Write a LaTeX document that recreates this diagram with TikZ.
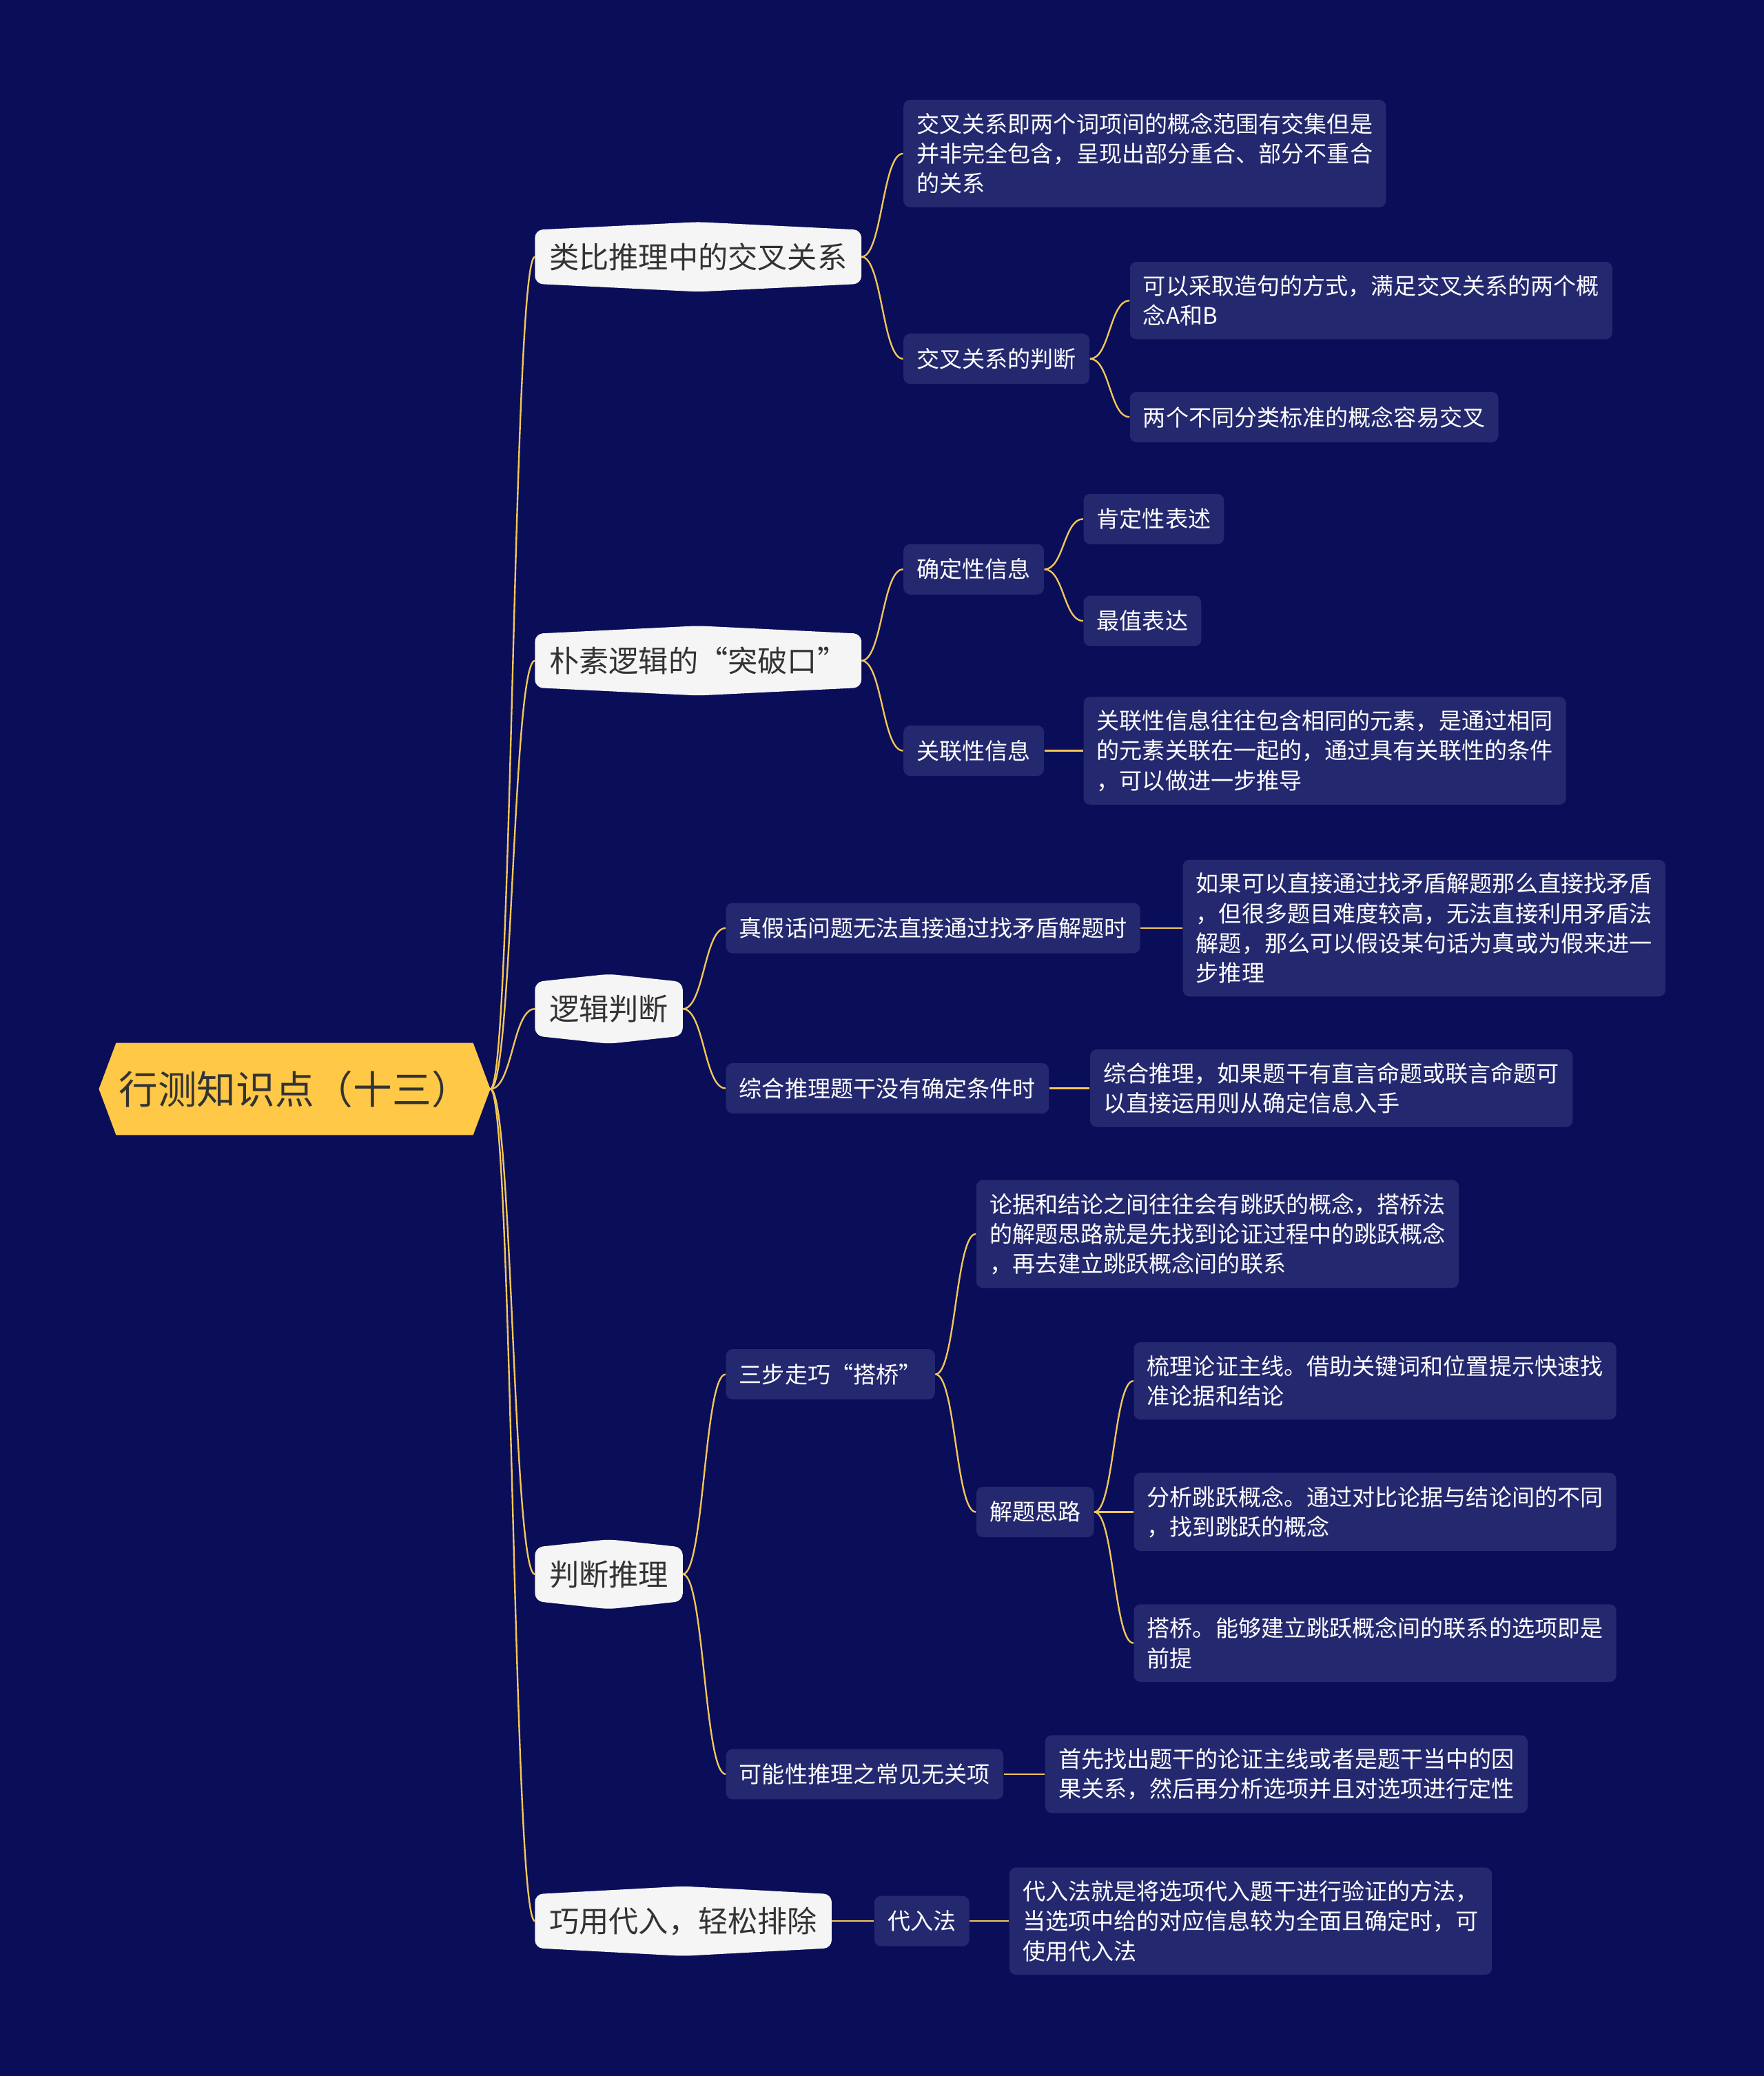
\documentclass[tikz,border=0pt]{standalone}
\usepackage{fontspec}
\setmainfont{Noto Sans CJK SC}
\usepackage{tikz}
\usetikzlibrary{positioning,backgrounds,calc}

\definecolor{navy}{HTML}{0A0E58}
\definecolor{boxblue}{HTML}{24286F}
\definecolor{gold}{HTML}{FFC947}
\definecolor{wire}{HTML}{F3C758}
\definecolor{paper}{HTML}{F5F5F5}
\definecolor{ink}{HTML}{333333}

\begin{document}
\begin{tikzpicture}[
    x=0.02cm, y=-0.02cm,
    mainidea/.style={rectangle, text=ink, font=\fontsize{16.8}{20}\selectfont, minimum width=5.9cm, minimum height=1.38cm, inner sep=0pt},
    topic/.style={rectangle, anchor=west, text=ink, font=\fontsize{12.8}{16}\selectfont, inner xsep=0.21cm, inner ysep=0pt, minimum height=1.04cm},
    detail/.style={rectangle, anchor=west, fill=boxblue, rounded corners=0.1cm, text=white, font=\fontsize{9.8}{12.8}\selectfont, align=left, inner xsep=0.2cm, inner ysep=0.2cm, minimum height=0.76cm},
    link/.style={draw=wire, line width=0.7pt, to path={.. controls ($(\tikztostart)!0.5!(\tikztotarget|-\tikztostart)$) and ($(\tikztotarget)!0.5!(\tikztostart|-\tikztotarget)$) .. (\tikztotarget)}}
]
\useasboundingbox (0,0) rectangle (1332,1568);

% Centre
\node [mainidea] (root) at (222.5,822.5) {行测知识点（十三）};

% Main branches
\node [topic] (t1) at (404,194) {类比推理中的交叉关系};
\node [topic] (t2) at (404,499) {朴素逻辑的“突破口”};
\node [topic] (t3) at (404,762) {逻辑判断};
\node [topic] (t4) at (404,1189) {判断推理};
\node [topic] (t5) at (404,1451) {巧用代入，轻松排除};

% Branch 1
\node [detail] (a1) at (682,116) {交叉关系即两个词项间的概念范围有交集但是\\并非完全包含，呈现出部分重合、部分不重合\\的关系};
\node [detail] (a2) at (682,271) {交叉关系的判断};
\node [detail] (a2a) at (853,227) {可以采取造句的方式，满足交叉关系的两个概\\念A和B};
\node [detail] (a2b) at (853,315) {两个不同分类标准的概念容易交叉};

% Branch 2
\node [detail] (b1) at (682,430) {确定性信息};
\node [detail] (b1a) at (818,392) {肯定性表述};
\node [detail] (b1b) at (818,469) {最值表达};
\node [detail] (b2) at (682,567) {关联性信息};
\node [detail] (b2a) at (818,567) {关联性信息往往包含相同的元素，是通过相同\\的元素关联在一起的，通过具有关联性的条件\\，可以做进一步推导};

% Branch 3
\node [detail] (c1) at (548,701) {真假话问题无法直接通过找矛盾解题时};
\node [detail] (c1a) at (893,701) {如果可以直接通过找矛盾解题那么直接找矛盾\\，但很多题目难度较高，无法直接利用矛盾法\\解题，那么可以假设某句话为真或为假来进一\\步推理};
\node [detail] (c2) at (548,822) {综合推理题干没有确定条件时};
\node [detail] (c2a) at (823,822) {综合推理，如果题干有直言命题或联言命题可\\以直接运用则从确定信息入手};

% Branch 4
\node [detail] (d1) at (548,1038) {三步走巧“搭桥”};
\node [detail] (d1a) at (737,932) {论据和结论之间往往会有跳跃的概念，搭桥法\\的解题思路就是先找到论证过程中的跳跃概念\\，再去建立跳跃概念间的联系};
\node [detail] (d1b) at (737,1142) {解题思路};
\node [detail] (d1b1) at (856,1043) {梳理论证主线。借助关键词和位置提示快速找\\准论据和结论};
\node [detail] (d1b2) at (856,1142) {分析跳跃概念。通过对比论据与结论间的不同\\，找到跳跃的概念};
\node [detail] (d1b3) at (856,1241) {搭桥。能够建立跳跃概念间的联系的选项即是\\前提};
\node [detail] (d2) at (548,1340) {可能性推理之常见无关项};
\node [detail] (d2a) at (789,1340) {首先找出题干的论证主线或者是题干当中的因\\果关系，然后再分析选项并且对选项进行定性};

% Branch 5
\node [detail] (e1) at (660,1451) {代入法};
\node [detail] (e1a) at (762,1451) {代入法就是将选项代入题干进行验证的方法，\\当选项中给的对应信息较为全面且确定时，可\\使用代入法};

% Backdrop and node shapes
\begin{scope}[on background layer]
\fill [navy] (0,0) rectangle (1332,1568);
\fill [gold] (root.west) -- ($(root.north west)+(13,0)$) -- ($(root.north east)+(-13,0)$) -- (root.east) -- ($(root.south east)+(-13,0)$) -- ($(root.south west)+(13,0)$) -- cycle;
\fill [paper, rounded corners=0.12cm] ($(t1.north west)+(0,6)$) -- (t1.north) -- ($(t1.north east)+(0,6)$) -- ($(t1.south east)+(0,-6)$) -- (t1.south) -- ($(t1.south west)+(0,-6)$) -- cycle;
\fill [paper, rounded corners=0.12cm] ($(t2.north west)+(0,6)$) -- (t2.north) -- ($(t2.north east)+(0,6)$) -- ($(t2.south east)+(0,-6)$) -- (t2.south) -- ($(t2.south west)+(0,-6)$) -- cycle;
\fill [paper, rounded corners=0.12cm] ($(t3.north west)+(0,6)$) -- (t3.north) -- ($(t3.north east)+(0,6)$) -- ($(t3.south east)+(0,-6)$) -- (t3.south) -- ($(t3.south west)+(0,-6)$) -- cycle;
\fill [paper, rounded corners=0.12cm] ($(t4.north west)+(0,6)$) -- (t4.north) -- ($(t4.north east)+(0,6)$) -- ($(t4.south east)+(0,-6)$) -- (t4.south) -- ($(t4.south west)+(0,-6)$) -- cycle;
\fill [paper, rounded corners=0.12cm] ($(t5.north west)+(0,6)$) -- (t5.north) -- ($(t5.north east)+(0,6)$) -- ($(t5.south east)+(0,-6)$) -- (t5.south) -- ($(t5.south west)+(0,-6)$) -- cycle;
\end{scope}

% Connections - centre to branches
\path [link] (root.east) to (t1.west);
\path [link] (root.east) to (t2.west);
\path [link] (root.east) to (t3.west);
\path [link] (root.east) to (t4.west);
\path [link] (root.east) to (t5.west);

% Connections - branch 1
\path [link] (t1.east) to (a1.west);
\path [link] (t1.east) to (a2.west);
\path [link] (a2.east) to (a2a.west);
\path [link] (a2.east) to (a2b.west);

% Connections - branch 2
\path [link] (t2.east) to (b1.west);
\path [link] (t2.east) to (b2.west);
\path [link] (b1.east) to (b1a.west);
\path [link] (b1.east) to (b1b.west);
\path [link] (b2.east) to (b2a.west);

% Connections - branch 3
\path [link] (t3.east) to (c1.west);
\path [link] (t3.east) to (c2.west);
\path [link] (c1.east) to (c1a.west);
\path [link] (c2.east) to (c2a.west);

% Connections - branch 4
\path [link] (t4.east) to (d1.west);
\path [link] (t4.east) to (d2.west);
\path [link] (d1.east) to (d1a.west);
\path [link] (d1.east) to (d1b.west);
\path [link] (d1b.east) to (d1b1.west);
\path [link] (d1b.east) to (d1b2.west);
\path [link] (d1b.east) to (d1b3.west);
\path [link] (d2.east) to (d2a.west);

% Connections - branch 5
\path [link] (t5.east) to (e1.west);
\path [link] (e1.east) to (e1a.west);

\end{tikzpicture}
\end{document}
